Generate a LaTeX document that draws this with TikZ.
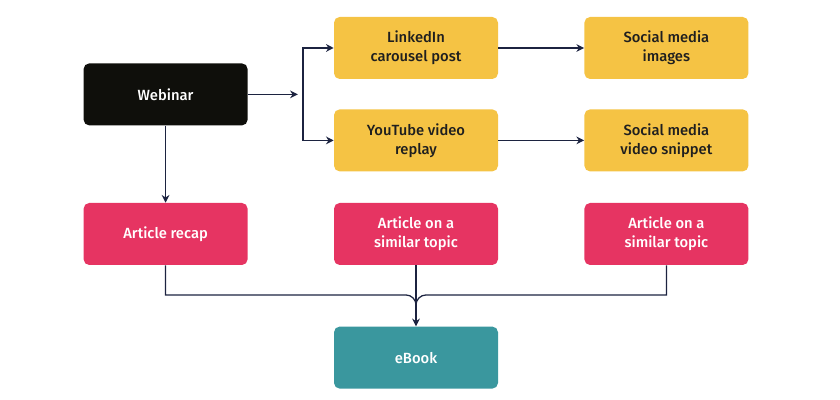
\documentclass[tikz,border=0pt]{standalone}
\usepackage{fontspec}
\setmainfont{Fira Sans}[UprightFont=* Medium]
\usepackage{tikz}
\usetikzlibrary{arrows.meta,positioning,calc}
\definecolor{webfill}{HTML}{0F0F0B}
\definecolor{repfill}{HTML}{F5C344}
\definecolor{artfill}{HTML}{E63462}
\definecolor{bookfill}{HTML}{3A979E}
\definecolor{linkc}{HTML}{1C2340}
\definecolor{darktext}{HTML}{1F1F1F}
\tikzset{
  box/.style={rounded corners=4pt, fill=#1, minimum width=4.1cm, minimum height=1.55cm,
              align=center, inner sep=2pt, font=\fontsize{10.5}{13.5}\selectfont},
  flow/.style={-{Stealth[length=5.5pt,width=5.5pt]}, line width=0.9pt, draw=linkc},
  link/.style={line width=0.9pt, draw=linkc},
}
\def\cA{4.14}
\def\cB{10.4}
\def\cC{16.66}
\def\yT{8.8}
\def\yW{7.64}
\def\yM{6.49}
\def\yA{4.15}
\def\yE{1.06}
\begin{document}
\begin{tikzpicture}
  \useasboundingbox (0,0) rectangle (21,10);
  \node[box=webfill, text=white] (web) at (\cA,\yW) {Webinar};
  \node[box=repfill, text=darktext] (li) at (\cB,\yT) {LinkedIn\\carousel post};
  \node[box=repfill, text=darktext] (yt) at (\cB,\yM) {YouTube video\\replay};
  \node[box=repfill, text=darktext] (smi) at (\cC,\yT) {Social media\\images};
  \node[box=repfill, text=darktext] (smv) at (\cC,\yM) {Social media\\video snippet};
  \node[box=artfill, text=white] (recap) at (\cA,\yA) {Article recap};
  \node[box=artfill, text=white] (artB) at (\cB,\yA) {Article on a\\similar topic};
  \node[box=artfill, text=white] (artC) at (\cC,\yA) {Article on a\\similar topic};
  \node[box=bookfill, text=white] (book) at (\cB,\yE) {eBook};
  % fork to the repurposed posts
  \coordinate (fork) at (7.575,\yW);
  \draw[flow] (web.east) -- ([xshift=-0.13cm]fork);
  \draw[flow] (fork) |- (li.west);
  \draw[flow] (fork) |- (yt.west);
  \draw[flow] (li) -- (smi);
  \draw[flow] (yt) -- (smv);
  \draw[flow] (web) -- (recap);
  % merge into the eBook
  \coordinate (join) at (\cB,2.625);
  \draw[link] (recap.south) |- ([xshift=-0.25cm]join) to[out=0,in=90] ([yshift=-0.25cm]join);
  \draw[link] (artC.south) |- ([xshift=0.25cm]join) to[out=180,in=90] ([yshift=-0.25cm]join);
  \draw[flow] (artB.south) -- (book.north);
\end{tikzpicture}
\end{document}
